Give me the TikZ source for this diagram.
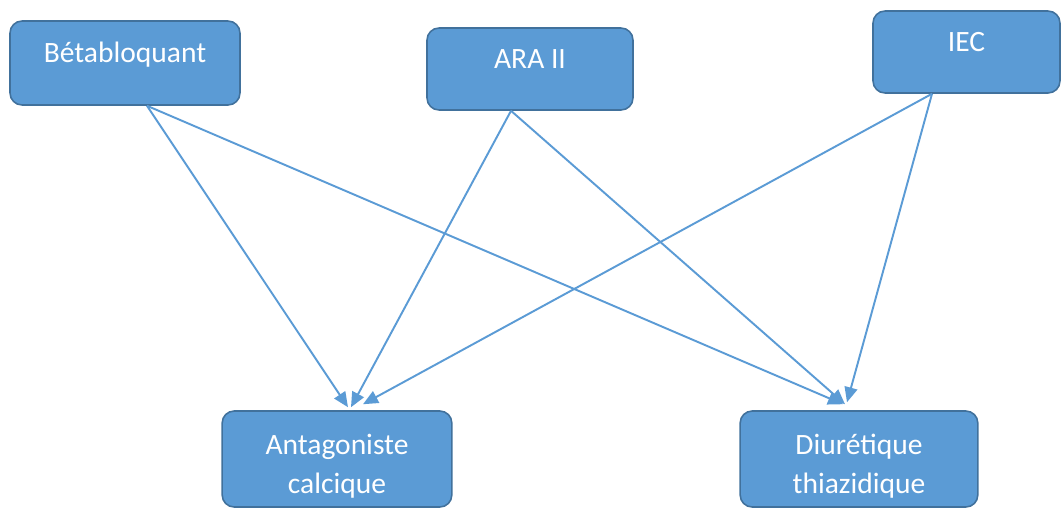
\documentclass[tikz,border=0pt]{standalone}
\usepackage{fontspec}
\setmainfont{Carlito}
\usepackage{xcolor}
\usetikzlibrary{arrows.meta}

\definecolor{boxblue}{HTML}{5B9BD5}
\definecolor{boxedge}{HTML}{41719C}

\begin{document}
\begin{tikzpicture}[
        x=0.02cm, y=-0.02cm,
        every node/.style={font=\fontsize{16.8}{22.2}\selectfont, text=white},
        drug/.style={draw=boxedge, fill=boxblue, line width=0.9pt, rounded corners=0.24cm,
            inner ysep=0.1cm, text height=0.4cm, text depth=0.44cm},
        target/.style={drug, align=center, text height=0.76cm, text depth=0.96cm, minimum height=1.92cm},
        arr/.style={-{Triangle[length=0.3cm, width=0.26cm]}, draw=boxblue, line width=1.1pt},
    ]
    \useasboundingbox (0,0) rectangle (1062,508);

    %% Top row: first-line drugs
    \node[drug, minimum width=4.6cm, minimum height=1.68cm] (beta) at (125,63) {Bétabloquant};
    \node[drug, minimum width=4.12cm, minimum height=1.64cm] (ara) at (530,69) {ARA II};
    \node[drug, minimum width=3.74cm, minimum height=1.64cm] (iec) at (966.5,52) {IEC};

    %% Bottom row
    \node[target, text width=4.36cm] (antag) at (337,459) {Antagoniste\\calcique};
    \node[target, text width=4.52cm] (diur) at (859,459) {Diurétique\\thiazidique};

    %% Combinations
    \draw[arr] ([xshift=0.44cm]beta.south) -- ([xshift=0.22cm, yshift=0.06cm]antag.north);
    \draw[arr] ([xshift=0.44cm]beta.south) -- ([xshift=-0.32cm, yshift=0.12cm]diur.north);
    \draw[arr] ([xshift=-0.38cm]ara.south) -- ([xshift=0.28cm, yshift=0.06cm]antag.north);
    \draw[arr] ([xshift=-0.38cm]ara.south) -- ([xshift=-0.28cm, yshift=0.12cm]diur.north);
    \draw[arr] ([xshift=-0.69cm]iec.south) -- ([xshift=0.52cm, yshift=0.12cm]antag.north);
    \draw[arr] ([xshift=-0.69cm]iec.south) -- ([xshift=-0.24cm, yshift=0.16cm]diur.north);

\end{tikzpicture}
\end{document}
